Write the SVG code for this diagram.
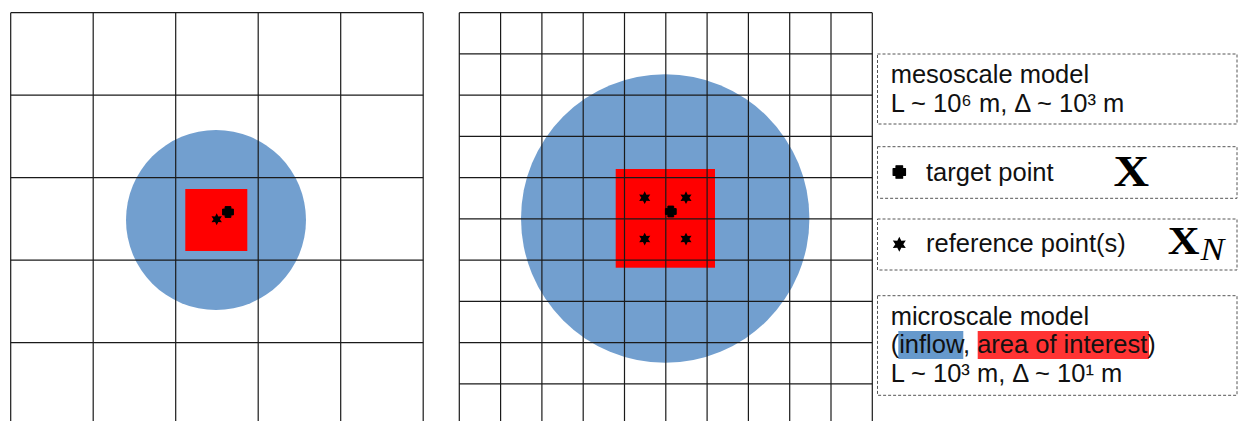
<svg xmlns="http://www.w3.org/2000/svg" xmlns:xlink="http://www.w3.org/1999/xlink" width="1238" height="421" viewBox="0 0 1238 421">
<style>
.grid line{stroke:#1a1a1a;stroke-width:1.2}
.inflow{fill:#729fcf}
.aoi{fill:#ff0000}
.mark{fill:#000}
.box{fill:none;stroke:#555;stroke-width:1;stroke-dasharray:3 2}
.t{font-family:"Liberation Sans",Arial,sans-serif;font-size:25.5px;fill:#111}
.bx{font-family:"Liberation Serif","Times New Roman",serif;font-weight:bold;fill:#000}
.it{font-family:"Liberation Serif","Times New Roman",serif;font-style:italic;fill:#000}
</style>
<defs>
<path id="star" d="M0,-7.5 L2,-3.46 L6.5,-3.75 L4,0 L6.5,3.75 L2,3.46 L0,7.5 L-2,3.46 L-6.5,3.75 L-4,0 L-6.5,-3.75 L-2,-3.46 Z"/>
<path id="plus" d="M-2.9,-5.4 h5.8 v2.5 h2.5 v5.8 h-2.5 v2.5 h-5.8 v-2.5 h-2.5 v-5.8 h2.5 z" stroke="#000" stroke-width="1" stroke-linejoin="round"/>
</defs>
<rect width="1238" height="421" fill="#fff"/>

<g id="mesoscale-panel">
<circle class="inflow" cx="216" cy="220" r="90"/>
<rect class="aoi" x="185.3" y="189" width="62" height="62"/>
<g class="grid">
<line x1="10.7" y1="12.7" x2="10.7" y2="421"/>
<line x1="93.2" y1="12.7" x2="93.2" y2="421"/>
<line x1="175.7" y1="12.7" x2="175.7" y2="421"/>
<line x1="258.2" y1="12.7" x2="258.2" y2="421"/>
<line x1="340.7" y1="12.7" x2="340.7" y2="421"/>
<line x1="423.2" y1="12.7" x2="423.2" y2="421"/>
<line x1="10.7" y1="12.7" x2="423.2" y2="12.7"/>
<line x1="10.7" y1="95.2" x2="423.2" y2="95.2"/>
<line x1="10.7" y1="177.7" x2="423.2" y2="177.7"/>
<line x1="10.7" y1="260.2" x2="423.2" y2="260.2"/>
<line x1="10.7" y1="342.7" x2="423.2" y2="342.7"/>
</g>
<use class="mark" href="#star" xlink:href="#star" transform="translate(216.7,219.3) scale(0.8)"/>
<use class="mark" href="#plus" xlink:href="#plus" transform="translate(228,212)"/>
</g>

<g id="microscale-panel">
<circle class="inflow" cx="665.2" cy="218.5" r="144.2"/>
<rect class="aoi" x="615.7" y="169" width="99.3" height="98.7"/>
<g class="grid">
<line x1="459.3" y1="12.7" x2="459.3" y2="421"/>
<line x1="500.6" y1="12.7" x2="500.6" y2="421"/>
<line x1="541.9" y1="12.7" x2="541.9" y2="421"/>
<line x1="583.2" y1="12.7" x2="583.2" y2="421"/>
<line x1="624.5" y1="12.7" x2="624.5" y2="421"/>
<line x1="665.8" y1="12.7" x2="665.8" y2="421"/>
<line x1="707.1" y1="12.7" x2="707.1" y2="421"/>
<line x1="748.4" y1="12.7" x2="748.4" y2="421"/>
<line x1="789.7" y1="12.7" x2="789.7" y2="421"/>
<line x1="831" y1="12.7" x2="831" y2="421"/>
<line x1="872.3" y1="12.7" x2="872.3" y2="421"/>
<line x1="459.3" y1="12.7" x2="872.3" y2="12.7"/>
<line x1="459.3" y1="53.95" x2="872.3" y2="53.95"/>
<line x1="459.3" y1="95.2" x2="872.3" y2="95.2"/>
<line x1="459.3" y1="136.45" x2="872.3" y2="136.45"/>
<line x1="459.3" y1="177.7" x2="872.3" y2="177.7"/>
<line x1="459.3" y1="218.95" x2="872.3" y2="218.95"/>
<line x1="459.3" y1="260.2" x2="872.3" y2="260.2"/>
<line x1="459.3" y1="301.45" x2="872.3" y2="301.45"/>
<line x1="459.3" y1="342.7" x2="872.3" y2="342.7"/>
<line x1="459.3" y1="383.95" x2="872.3" y2="383.95"/>
</g>
<use class="mark" href="#star" xlink:href="#star" transform="translate(644.7,197.7) scale(0.85)"/>
<use class="mark" href="#star" xlink:href="#star" transform="translate(686,197.7) scale(0.85)"/>
<use class="mark" href="#star" xlink:href="#star" transform="translate(644.7,239) scale(0.85)"/>
<use class="mark" href="#star" xlink:href="#star" transform="translate(686,239) scale(0.85)"/>
<use class="mark" href="#plus" xlink:href="#plus" transform="translate(670.8,211.5)"/>
</g>

<g id="legend-mesoscale">
<rect class="box" x="877.5" y="54" width="359.5" height="70"/>
<text class="t" x="890.7" y="83.3">mesoscale model</text>
<text class="t" x="890.7" y="112.3">L ~ 10⁶ m, Δ ~ 10³ m</text>
</g>

<g id="legend-target">
<rect class="box" x="877.5" y="146.7" width="359.5" height="51.6"/>
<use class="mark" href="#plus" xlink:href="#plus" transform="translate(899.3,172) scale(1.15)"/>
<text class="t" x="926" y="180.7">target point</text>
<text class="bx" font-size="44" transform="translate(1113.5,186) scale(1.12,1)">X</text>
</g>

<g id="legend-reference">
<rect class="box" x="877.5" y="219" width="359.5" height="51"/>
<use class="mark" href="#star" xlink:href="#star" transform="translate(899.3,244.3)"/>
<text class="t" x="926" y="251.7">reference point(s)</text>
<text class="bx" font-size="40" transform="translate(1167.8,254) scale(1.1,1)">X</text>
<text class="it" font-size="31" transform="translate(1200.5,260) scale(1.15,1)">N</text>
</g>

<g id="legend-microscale">
<rect class="box" x="877.5" y="295.7" width="359.5" height="99.6"/>
<rect x="898.3" y="331" width="65" height="28" fill="#6699cc"/>
<rect x="977.7" y="331" width="171.3" height="28" fill="#ff3333"/>
<text class="t" x="890.7" y="325">microscale model</text>
<text class="t" x="890.7" y="353.3">(inflow, area of interest)</text>
<text class="t" x="890.7" y="381.7">L ~ 10³ m, Δ ~ 10¹ m</text>
</g>
</svg>
